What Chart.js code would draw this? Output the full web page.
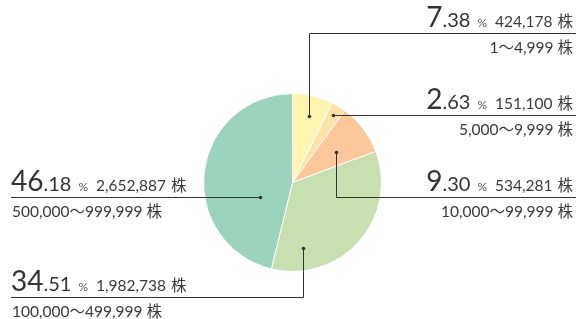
<!DOCTYPE html>
<html>
<head>
<meta charset="utf-8">
<script src="https://cdn.jsdelivr.net/npm/chart.js@4"></script>
<style>
  body { margin: 0; background: #fff; }
  #wrap { width: 576px; height: 319px; position: relative; }
</style>
</head>
<body>
<div id="wrap"><canvas id="pieChart"></canvas></div>
<script>
const categories = ['1～4,999 株', '5,000～9,999 株', '10,000～99,999 株', '100,000～499,999 株', '500,000～999,999 株'];
const percentages = [7.38, 2.63, 9.30, 34.51, 46.18];
const shares = [424178, 151100, 534281, 1982738, 2652887];
const sliceColors = ['#fff4b0', '#fde3a8', '#fcc89b', '#c8dfb0', '#9bd3bd'];

// where each leader line starts inside its slice (degrees clockwise from top, share of radius)
const leaders = [
    { angle: 14, r: 0.77, lineY: 33, side: 'right' },
    { angle: 31, r: 0.88, lineY: null, side: 'right' },
    { angle: 55, r: 0.6, lineY: 197, side: 'right' },
    { angle: 171, r: 0.745, lineY: 297, side: 'left' },
    { angle: 245.5, r: 0.40, lineY: null, side: 'left' }
];

const fontFamily = "Lato, 'Noto Sans CJK JP', sans-serif";
const textColor = '#3a3a3a';

function drawPieces(ctx, pieces, x, y, align) {
    let total = 0;
    pieces.forEach(p => {
        ctx.font = p.size + 'px ' + fontFamily;
        p.w = ctx.measureText(p.text).width;
        total += p.w + (p.gap || 0);
    });
    let cx = align === 'right' ? x - total : x;
    pieces.forEach(p => {
        cx += p.gap || 0;
        ctx.font = p.size + 'px ' + fontFamily;
        ctx.fillStyle = p.color || textColor;
        ctx.fillText(p.text, cx, y);
        cx += p.w;
    });
}

const leaderPlugin = {
    id: 'leaders',
    afterDraw(chart) {
        const ctx = chart.ctx;
        const arc = chart.getDatasetMeta(0).data[0];
        const cx = arc.x, cy = arc.y, R = arc.outerRadius;
        ctx.save();
        ctx.lineWidth = 1;
        ctx.textBaseline = 'alphabetic';

        leaders.forEach((l, i) => {
            const a = l.angle * Math.PI / 180;
            const dx = Math.round(cx + Math.sin(a) * l.r * R) + 0.5;
            const dy = Math.round(cy - Math.cos(a) * l.r * R) + 0.5;
            const ly = l.lineY === null ? dy : l.lineY + 0.5;
            const endX = l.side === 'right' ? chart.width : 11;

            ctx.strokeStyle = '#333';
            ctx.fillStyle = '#333';
            ctx.beginPath();
            ctx.moveTo(dx, dy);
            ctx.lineTo(dx, ly);
            ctx.lineTo(endX, ly);
            ctx.stroke();

            ctx.beginPath();
            ctx.arc(dx, dy, 1.8, 0, Math.PI * 2);
            ctx.fill();

            const [intPart, decPart] = percentages[i].toFixed(2).split('.');
            const pieces = [
                { text: intPart, size: 28, color: '#333' },
                { text: '.' + decPart, size: 20, color: '#333' },
                { text: '%', size: 12, gap: 7, color: '#555' },
                { text: shares[i].toLocaleString('en-US'), size: 15.5, gap: 8 },
                { text: '株', size: 15.5, gap: 5 }
            ];
            const tx = l.side === 'right' ? 573 : 11;
            drawPieces(ctx, pieces, tx, ly - 7, l.side);
            ctx.fillStyle = textColor;
            ctx.font = '15.5px ' + fontFamily;
            ctx.textAlign = l.side === 'right' ? 'right' : 'left';
            ctx.fillText(categories[i], l.side === 'right' ? 573 : 12, ly + 19.5);
            ctx.textAlign = 'left';
        });
        ctx.restore();
    }
};

new Chart(document.getElementById('pieChart'), {
    type: 'pie',
    data: {
        labels: categories,
        datasets: [{
            data: percentages,
            backgroundColor: sliceColors,
            borderColor: '#ffffff',
            borderWidth: 1,
            radius: 89,
            hoverOffset: 0
        }]
    },
    options: {
        responsive: true,
        maintainAspectRatio: false,
        animation: false,
        events: [],
        layout: { padding: { left: 9, right: 0, top: 46, bottom: 0 } },
        plugins: {
            legend: { display: false },
            tooltip: { enabled: false }
        }
    },
    plugins: [leaderPlugin]
});
</script>
</body>
</html>
